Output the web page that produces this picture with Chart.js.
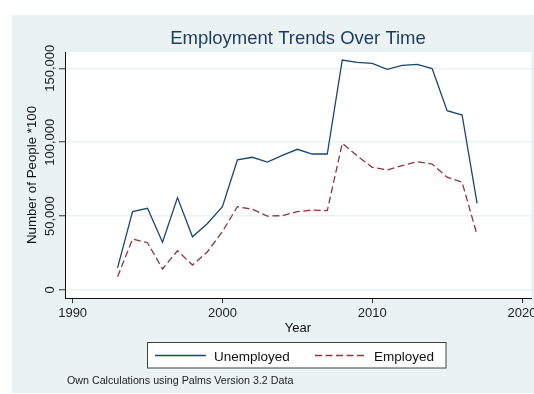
<!DOCTYPE html>
<html>
<head>
<meta charset="utf-8">
<script src="https://cdn.jsdelivr.net/npm/chart.js@4.4.1/dist/chart.umd.min.js"></script>
<style>
  html, body { margin: 0; padding: 0; background: #fff; }
  canvas { display: block; }
</style>
</head>
<body>
<canvas id="chart" width="534" height="394"></canvas>
<script>
const years = [1993, 1994, 1995, 1996, 1997, 1998, 1999, 2000, 2001, 2002, 2003, 2004, 2005,
               2006, 2007, 2008, 2009, 2010, 2011, 2012, 2013, 2014, 2015, 2016, 2017];
const unemployed = [15000, 53000, 55300, 32300, 62500, 36000, 45000, 56400, 88000, 89800, 86600, 91100, 95200,
                    92000, 92000, 155600, 154000, 153400, 149300, 152000, 152700, 149800, 121300, 118400, 58600];
const employed = [9000, 34500, 32000, 14200, 26600, 16900, 25900, 39500, 56400, 54600, 50000, 50300, 53000,
                  54100, 53700, 99200, 90700, 83000, 81200, 84100, 86800, 85200, 76300, 72900, 37200];
const xTicks = [1990, 2000, 2010, 2020];
const yTicks = [0, 50000, 100000, 150000];
const yTickLabels = ['0', '50,000', '100,000', '150,000'];
const note = 'Own Calculations using Palms Version 3.2 Data';

const family = '"Liberation Sans", Arial, Helvetica, sans-serif';
const bg = '#eaf2f3';

// Stata-like background: light graph region, white plot region
const background = {
  id: 'background',
  beforeDraw(chart) {
    const {ctx, chartArea: a} = chart;
    ctx.save();
    ctx.fillStyle = '#fff';
    ctx.fillRect(0, 0, chart.width, chart.height);
    ctx.fillStyle = bg;
    ctx.fillRect(12, 15, chart.width - 12, 378);
    ctx.fillStyle = '#fff';
    ctx.fillRect(a.left, a.top, a.right - a.left, a.bottom - a.top);
    ctx.restore();
  }
};

// vertical y tick labels, legend box and note
const extras = {
  id: 'extras',
  afterDraw(chart) {
    const ctx = chart.ctx;
    const y = chart.scales.y;
    ctx.save();
    ctx.font = '13px ' + family;
    ctx.fillStyle = '#222';
    ctx.textAlign = 'center';
    ctx.textBaseline = 'alphabetic';
    y.ticks.forEach((t, i) => {
      ctx.save();
      ctx.translate(54, y.getPixelForValue(t.value));
      ctx.rotate(-Math.PI / 2);
      ctx.fillText(yTickLabels[yTicks.indexOf(t.value)], 0, 0);
      ctx.restore();
    });

    ctx.fillStyle = '#fff';
    ctx.fillRect(147.5, 342.5, 298.5, 25.5);
    ctx.strokeStyle = '#404040';
    ctx.lineWidth = 1;
    ctx.strokeRect(147.5, 342.5, 298.5, 25.5);
    const spots = [{x: 155, tx: 214}, {x: 315, tx: 374}];
    ctx.textAlign = 'left';
    chart.data.datasets.forEach((ds, i) => {
      const s = spots[i];
      ctx.strokeStyle = ds.borderColor;
      ctx.lineWidth = ds.borderWidth;
      ctx.setLineDash(ds.borderDash || []);
      ctx.beginPath();
      ctx.moveTo(s.x, 355.5);
      ctx.lineTo(s.x + 51, 355.5);
      ctx.stroke();
      ctx.setLineDash([]);
      ctx.fillStyle = '#111';
      ctx.font = '13.5px ' + family;
      ctx.fillText(ds.label, s.tx, 361);
    });

    ctx.font = '10.7px ' + family;
    ctx.fillStyle = '#222';
    ctx.fillText(note, 67, 383.5);
    ctx.restore();
  }
};

const ctx = document.getElementById('chart').getContext('2d');
new Chart(ctx, {
  type: 'line',
  data: {
    datasets: [
      {
        label: 'Unemployed',
        data: years.map((yr, i) => ({x: yr, y: unemployed[i]})),
        borderColor: '#1a476f',
        borderWidth: 1.3,
        pointRadius: 0,
        tension: 0,
        fill: false
      },
      {
        label: 'Employed',
        data: years.map((yr, i) => ({x: yr, y: employed[i]})),
        borderColor: '#90353b',
        borderWidth: 1.3,
        borderDash: [7, 3.5],
        pointRadius: 0,
        tension: 0,
        fill: false
      }
    ]
  },
  options: {
    responsive: false,
    devicePixelRatio: 1,
    animation: false,
    events: [],
    layout: {
      padding: {left: 12, top: 0, right: 3, bottom: 57.9}
    },
    scales: {
      x: {
        type: 'linear',
        min: 1989.49,
        max: 2020.6,
        afterBuildTicks: s => { s.ticks = xTicks.map(v => ({value: v})); },
        afterFit: s => { s.height = 38.1; s.paddingLeft = 0; s.paddingRight = 0; },
        ticks: {
          callback: v => String(v),
          autoSkip: false,
          maxRotation: 0,
          padding: 2.2,
          color: '#222',
          font: {size: 13, family: family}
        },
        grid: {
          drawOnChartArea: false,
          tickLength: 5,
          tickColor: '#333',
          tickWidth: 1
        },
        border: {color: '#111', width: 1},
        title: {
          display: true,
          text: 'Year',
          color: '#111',
          font: {size: 13, family: family},
          padding: {top: 0, bottom: 0}
        }
      },
      y: {
        min: -5413,
        max: 161028,
        afterBuildTicks: s => { s.ticks = yTicks.map(v => ({value: v})); },
        afterFit: s => { s.width = 53; s.paddingTop = 0; s.paddingBottom = 0; },
        ticks: {display: false},
        grid: {
          color: bg,
          lineWidth: 1.5,
          tickLength: 6,
          tickColor: '#333',
          tickWidth: 1
        },
        border: {color: '#111', width: 1},
        title: {
          display: true,
          text: 'Number of People *100',
          color: '#111',
          font: {size: 13.3, family: family},
          padding: {top: 12.5, bottom: 0}
        }
      }
    },
    plugins: {
      legend: {display: false},
      tooltip: {enabled: false},
      title: {
        display: true,
        text: 'Employment Trends Over Time',
        fullSize: false,
        color: '#1c3b5e',
        font: {size: 18.5, family: family, weight: 'normal'},
        padding: {top: 27.9, bottom: 1.9}
      }
    }
  },
  plugins: [background, extras]
});
</script>
</body>
</html>
